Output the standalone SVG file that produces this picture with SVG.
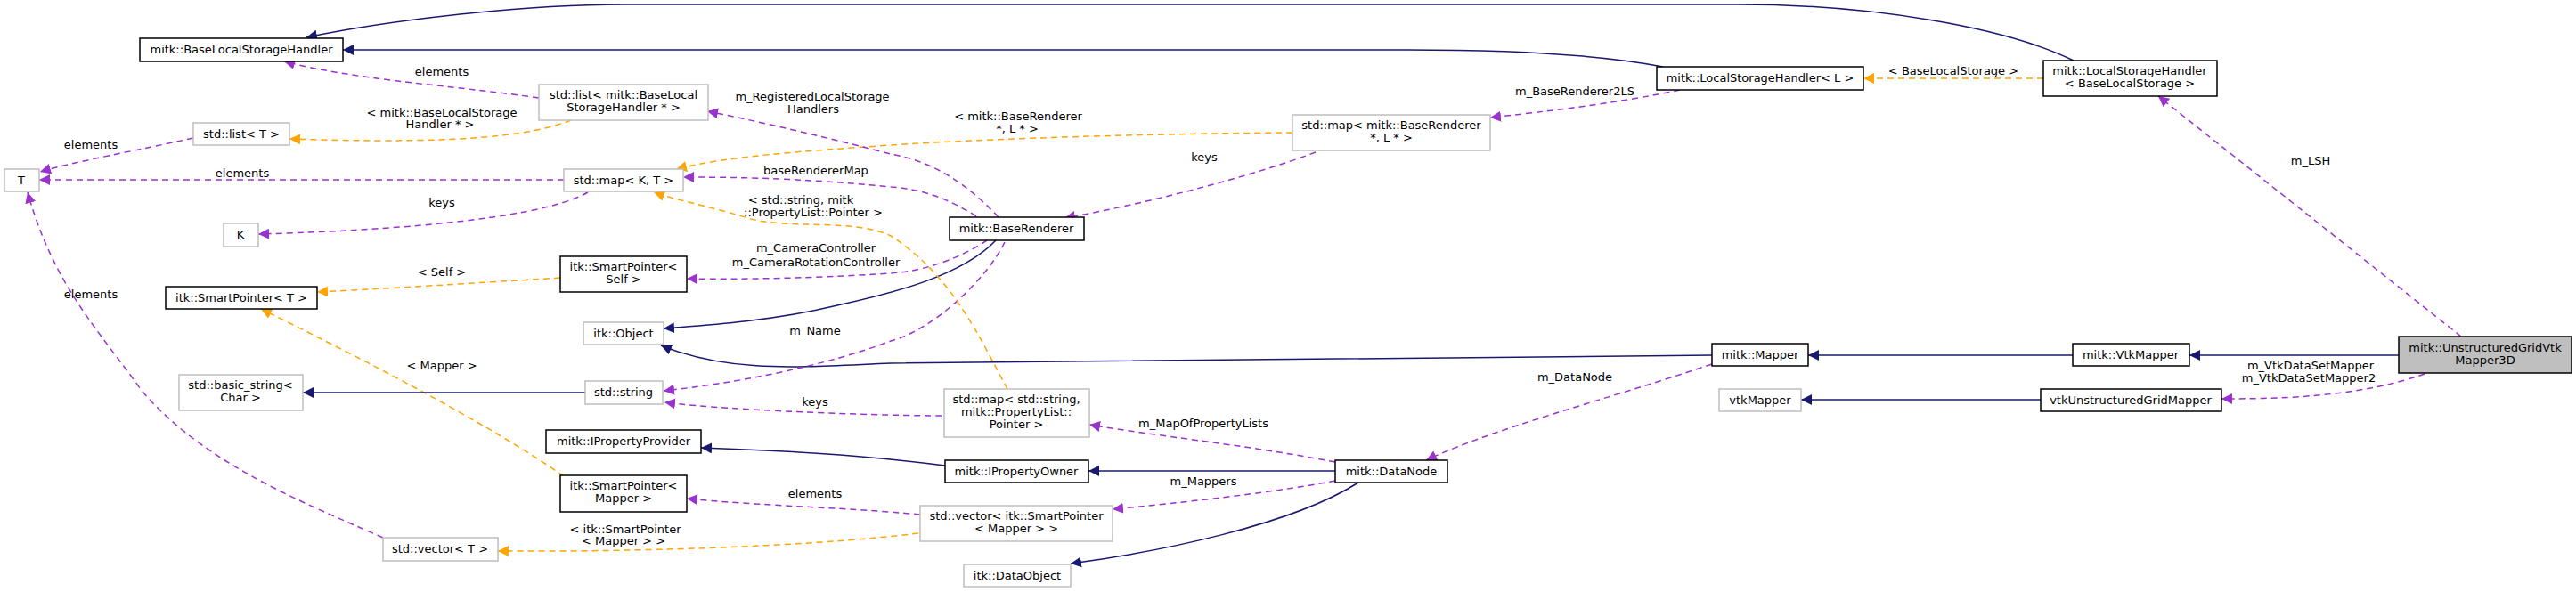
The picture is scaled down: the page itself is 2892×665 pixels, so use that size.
<svg xmlns="http://www.w3.org/2000/svg" width="2892" height="665" viewBox="0 0 2892 665">
<style>
text{font-family:"DejaVu Sans","Liberation Sans",sans-serif;font-size:13px;fill:#000;text-anchor:middle}
.nb{fill:#fff;stroke:#000;stroke-width:1.5}
.ng{fill:#fff;stroke:#bfbfbf;stroke-width:1.5}
.nf{fill:#bfbfbf;stroke:#000;stroke-width:1.5}
.inh{fill:none;stroke:#191970;stroke-width:1.5;marker-end:url(#an)}
.use{fill:none;stroke:#9a32cd;stroke-width:1.5;stroke-dasharray:7,5;marker-end:url(#ap)}
.tpl{fill:none;stroke:#ffa500;stroke-width:1.5;stroke-dasharray:7,5;marker-end:url(#ao)}
</style>
<defs>
<marker id="an" markerUnits="userSpaceOnUse" markerWidth="14" markerHeight="12" refX="12" refY="6" orient="auto"><path d="M0,0 L12,6 L0,12 Z" fill="#191970"/></marker>
<marker id="ap" markerUnits="userSpaceOnUse" markerWidth="14" markerHeight="12" refX="12" refY="6" orient="auto"><path d="M0,0 L12,6 L0,12 Z" fill="#9a32cd"/></marker>
<marker id="ao" markerUnits="userSpaceOnUse" markerWidth="14" markerHeight="12" refX="12" refY="6" orient="auto"><path d="M0,0 L12,6 L0,12 Z" fill="#ffa500"/></marker>
</defs>
<rect width="2892" height="665" fill="#fff"/>
<g id="edges">
<path class="inh" d="M2328,68 C2250,30 2100,5 1950,5 L700,5 C600,5 450,20 344,42"/>
<path class="inh" d="M1867,75 C1800,62 1700,56 1580,56 L385,56"/>
<path class="tpl" d="M2294,88 L2092,88"/>
<path class="use" d="M2763,378 L2423,108"/>
<path class="inh" d="M2693,399 L2458,399"/>
<path class="inh" d="M2327,399 L2030,399"/>
<path class="use" d="M2722,420 C2650,445 2570,448 2494,448"/>
<path class="inh" d="M2291,449 L2022,449"/>
<path class="inh" d="M1922,399 L1000,408 C900,412 820,420 742,388"/>
<path class="use" d="M1922,409 C1800,450 1680,480 1601,517"/>
<path class="inh" d="M1499,529 L1222,529"/>
<path class="inh" d="M1061,523 C960,510 870,506 787,503"/>
<path class="inh" d="M1525,542 C1450,590 1300,620 1202,633"/>
<path class="use" d="M1499,519 C1400,500 1300,490 1223,477"/>
<path class="use" d="M1499,540 C1420,555 1320,565 1249,572"/>
<path class="use" d="M1033,578 C950,570 850,568 771,560"/>
<path class="tpl" d="M1031,599 C900,615 700,620 559,619"/>
<path class="use" d="M430,604 C330,560 230,520 160,440 C110,370 60,320 31,216"/>
<path class="tpl" d="M633,535 C540,470 380,390 293,347"/>
<path class="tpl" d="M629,312 C530,318 440,324 356,328"/>
<path class="use" d="M1108,270 C1070,295 1030,305 1000,307 C920,312 850,314 771,313"/>
<path class="inh" d="M1118,270 C1080,310 1000,330 940,343 C870,360 800,365 745,369"/>
<path class="use" d="M1128,272 C1110,310 1050,370 1000,383 C930,410 830,430 745,439"/>
<path class="use" d="M1057,467 C1000,467 830,462 746,452"/>
<path class="tpl" d="M1131,437 C1100,380 1070,310 1000,265 C960,245 880,258 840,245 C790,230 760,225 734,216"/>
<path class="inh" d="M657,441 L340,441"/>
<path class="use" d="M633,202 L44,202"/>
<path class="use" d="M660,216 C600,250 400,260 290,263"/>
<path class="use" d="M1096,243 C1060,220 1030,212 1000,210 C920,202 850,199 767,199"/>
<path class="tpl" d="M1451,149 C1300,150 1120,155 1000,163 C900,170 820,175 759,190"/>
<path class="use" d="M1121,244 C1080,200 1040,180 1000,173 C930,155 860,138 794,125"/>
<path class="use" d="M1477,171 C1400,200 1280,230 1195,245"/>
<path class="use" d="M1886,101 C1820,115 1740,125 1673,132"/>
<path class="use" d="M605,110 C500,95 400,90 319,69"/>
<path class="tpl" d="M641,135 C580,160 450,160 325,156"/>
<path class="use" d="M217,155 C150,170 90,180 45,193"/>
</g>
<g id="labels">
<text x="2193" y="84">&lt; BaseLocalStorage &gt;</text>
<text x="2594" y="185">m_LSH</text>
<text x="2594" y="415">m_VtkDataSetMapper</text>
<text x="2592" y="429">m_VtkDataSetMapper2</text>
<text x="1768" y="107">m_BaseRenderer2LS</text>
<text x="1143" y="135">&lt; mitk::BaseRenderer</text>
<text x="1142" y="149">*, L * &gt;</text>
<text x="1352" y="181">keys</text>
<text x="1768" y="428">m_DataNode</text>
<text x="1351" y="480">m_MapOfPropertyLists</text>
<text x="1351" y="545">m_Mappers</text>
<text x="496" y="85">elements</text>
<text x="496" y="131">&lt; mitk::BaseLocalStorage</text>
<text x="494" y="144">Handler * &gt;</text>
<text x="102" y="167">elements</text>
<text x="272" y="199">elements</text>
<text x="496" y="232">keys</text>
<text x="496" y="310">&lt; Self &gt;</text>
<text x="102" y="335">elements</text>
<text x="912" y="113">m_RegisteredLocalStorage</text>
<text x="913" y="127">Handlers</text>
<text x="916" y="196">baseRendererMap</text>
<text x="899" y="229">&lt; std::string, mitk</text>
<text x="913" y="243">::PropertyList::Pointer &gt;</text>
<text x="916" y="283">m_CameraController</text>
<text x="916" y="299">m_CameraRotationController</text>
<text x="915" y="376">m_Name</text>
<text x="496" y="415">&lt; Mapper &gt;</text>
<text x="915" y="456">keys</text>
<text x="915" y="559">elements</text>
<text x="702" y="599">&lt; itk::SmartPointer</text>
<text x="700" y="612">&lt; Mapper &gt; &gt;</text>
</g>
<g id="n_ugvm3d"><rect class="nf" x="2693" y="378" width="194" height="41"/><text x="2790" y="395">mitk::UnstructuredGridVtk</text><text x="2790" y="409">Mapper3D</text></g>
<g id="n_vtkmapper_mitk"><rect class="nb" x="2327" y="386" width="131" height="25"/><text x="2392" y="403">mitk::VtkMapper</text></g>
<g id="n_vtkugm"><rect class="nb" x="2291" y="437" width="203" height="25"/><text x="2392" y="454">vtkUnstructuredGridMapper</text></g>
<g id="n_lshb"><rect class="nb" x="2294" y="68" width="195" height="40"/><text x="2391" y="84">mitk::LocalStorageHandler</text><text x="2391" y="98">&lt; BaseLocalStorage &gt;</text></g>
<g id="n_lshl"><rect class="nb" x="1860" y="75" width="232" height="26"/><text x="1976" y="92">mitk::LocalStorageHandler&lt; L &gt;</text></g>
<g id="n_mapper"><rect class="nb" x="1922" y="386" width="108" height="25"/><text x="1976" y="403">mitk::Mapper</text></g>
<g id="n_vtkmapper"><rect class="ng" x="1930" y="437" width="92" height="25"/><text x="1976" y="454">vtkMapper</text></g>
<g id="n_mapbr"><rect class="ng" x="1451" y="129" width="222" height="40"/><text x="1562" y="145">std::map&lt; mitk::BaseRenderer</text><text x="1562" y="159">*, L * &gt;</text></g>
<g id="n_datanode"><rect class="nb" x="1499" y="517" width="126" height="25"/><text x="1562" y="534">mitk::DataNode</text></g>
<g id="n_baserenderer"><rect class="nb" x="1066" y="244" width="151" height="26"/><text x="1141" y="261">mitk::BaseRenderer</text></g>
<g id="n_mappl"><rect class="ng" x="1060" y="437" width="163" height="54"/><text x="1141" y="453">std::map&lt; std::string,</text><text x="1141" y="467">mitk::PropertyList::</text><text x="1141" y="481">Pointer &gt;</text></g>
<g id="n_ipo"><rect class="nb" x="1061" y="517" width="161" height="25"/><text x="1141" y="534">mitk::IPropertyOwner</text></g>
<g id="n_vecsp"><rect class="ng" x="1033" y="568" width="216" height="40"/><text x="1141" y="584">std::vector&lt; itk::SmartPointer</text><text x="1141" y="598">&lt; Mapper &gt; &gt;</text></g>
<g id="n_dataobject"><rect class="ng" x="1082" y="634" width="120" height="25"/><text x="1142" y="651">itk::DataObject</text></g>
<g id="n_bls"><rect class="nb" x="157" y="43" width="228" height="26"/><text x="271" y="60">mitk::BaseLocalStorageHandler</text></g>
<g id="n_listbls"><rect class="ng" x="605" y="95" width="190" height="40"/><text x="700" y="111">std::list&lt; mitk::BaseLocal</text><text x="700" y="125">StorageHandler * &gt;</text></g>
<g id="n_listt"><rect class="ng" x="217" y="138" width="108" height="25"/><text x="271" y="155">std::list&lt; T &gt;</text></g>
<g id="n_t"><rect class="ng" x="5" y="190" width="39" height="25"/><text x="24" y="207">T</text></g>
<g id="n_mapkt"><rect class="ng" x="633" y="190" width="134" height="25"/><text x="700" y="207">std::map&lt; K, T &gt;</text></g>
<g id="n_k"><rect class="ng" x="251" y="251" width="39" height="26"/><text x="270" y="268">K</text></g>
<g id="n_spself"><rect class="nb" x="629" y="288" width="142" height="40"/><text x="700" y="304">itk::SmartPointer&lt;</text><text x="700" y="318">Self &gt;</text></g>
<g id="n_spt"><rect class="nb" x="186" y="322" width="170" height="25"/><text x="271" y="339">itk::SmartPointer&lt; T &gt;</text></g>
<g id="n_object"><rect class="ng" x="655" y="362" width="90" height="25"/><text x="700" y="379">itk::Object</text></g>
<g id="n_basicstring"><rect class="ng" x="201" y="421" width="139" height="40"/><text x="270" y="437">std::basic_string&lt;</text><text x="270" y="451">Char &gt;</text></g>
<g id="n_string"><rect class="ng" x="657" y="428" width="87" height="26"/><text x="700" y="445">std::string</text></g>
<g id="n_ipp"><rect class="nb" x="613" y="483" width="174" height="26"/><text x="700" y="500">mitk::IPropertyProvider</text></g>
<g id="n_spmapper"><rect class="nb" x="629" y="534" width="142" height="41"/><text x="700" y="550">itk::SmartPointer&lt;</text><text x="700" y="564">Mapper &gt;</text></g>
<g id="n_vect"><rect class="ng" x="430" y="604" width="129" height="26"/><text x="494" y="621">std::vector&lt; T &gt;</text></g>
</svg>
